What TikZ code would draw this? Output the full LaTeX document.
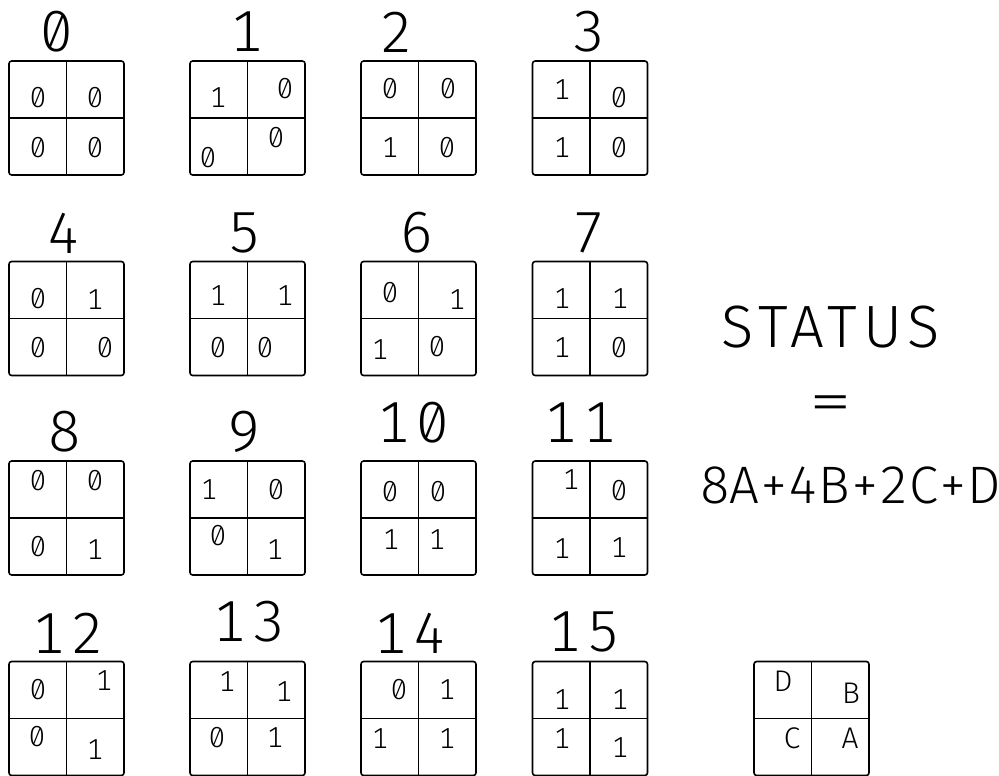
\documentclass[tikz,border=0pt]{standalone}
\usepackage{fontspec}
\usetikzlibrary{positioning}
\newfontfamily\bigfont{Fira Sans Light}[Numbers={Monospaced,SlashedZero},LetterSpace=12]
\newfontfamily\wordfont{Fira Sans Light}[LetterSpace=10]
\newfontfamily\sumfont{Fira Sans Light}[Numbers={Monospaced,SlashedZero}]
\newfontfamily\smallfont{Fira Sans Light}[Numbers={Monospaced,SlashedZero}]

\tikzset{
  statusbox/.style={draw, line width=0.9pt, rounded corners=1.5pt,
    minimum width=2.3cm, minimum height=2.28cm, inner sep=0pt},
  grid line/.style={line width=0.9pt},
  bignum/.style={inner sep=0pt, font=\bigfont\fontsize{33}{33}\selectfont},
  cellnum/.style={inner sep=0pt, font=\smallfont\fontsize{16.5}{16.5}\selectfont},
  keyletter/.style={inner sep=0pt, font=\smallfont\fontsize{17}{17}\selectfont},
}

\begin{document}
\begin{tikzpicture}[x=0.02cm, y=-0.02cm]
  \useasboundingbox (0,0) rectangle (999,776);

  % sixteen boxes, four rows of four
  \foreach \r/\cy in {0/118, 1/318.5, 2/518, 3/718.5} {
    \foreach \c/\cx in {0/66.5, 1/247.5, 2/418.5, 3/590} {
      \pgfmathtruncatemacro{\n}{4*\r+\c}
      \node[statusbox] (b\n) at (\cx,\cy) {};
      \draw[grid line] (b\n.north) -- (b\n.south) (b\n.west) -- (b\n.east);
    }
  }

  % the number above each box
  \foreach \n/\x/\y in {0/57/32, 1/247/32, 2/397/32, 3/589/32,
                        4/64/233, 5/245/233, 6/417/233, 7/589/233,
                        8/65/432, 9/245/432, 10/413/423, 11/580/423,
                        12/68/633, 13/249/622, 14/410/633, 15/584/632}
    \node[bignum] (l\n) at (\x,\y) {\n};

  % bits in the cells
  \foreach \x/\y/\t [count=\k] in {
      38/98/0, 95/98/0, 38/148/0, 95/148/0,
      218/98/1, 285/89/0, 208/158/0, 276/138/0,
      390/89/0, 448/89/0, 390/148/1, 447/148/0,
      562/90/1, 619/98/0, 562/148/1, 619/148/0,
      38/299/0, 95/300/1, 38/348/0, 105/348/0,
      218/296/1, 285/296/1, 218/348/0, 265/348/0,
      390/293/0, 457/300/1, 380/350/1, 437/347/0,
      562/299/1, 620/299/1, 562/348/1, 619/348/0,
      38/481/0, 95/481/0, 38/547/0, 95/550/1,
      209/490/1, 276/490/0, 218/536/0, 275/550/1,
      390/492/0, 438/492/0, 391/540/1, 437/540/1,
      571/480/1, 619/491/0, 562/549/1, 619/548/1,
      38/690/0, 104/681/1, 37/737/0, 95/750/1,
      227/682/1, 284/692/1, 217/738/0, 275/738/1,
      399/690/0, 447/690/1, 380/739/1, 447/739/1,
      562/700/1, 620/700/1, 562/739/1, 620/748/1}
    \node[cellnum] (d\k) at (\x,\y) {\t};

  % key box
  \node[statusbox] (key) at (811.5,718.5) {};
  \draw[grid line] (key.north) -- (key.south) (key.west) -- (key.east);
  \node[keyletter] (kD) at (783,681) {D};
  \node[keyletter] (kB) at (851,693) {B};
  \node[keyletter] (kC) at (792,738) {C};
  \node[keyletter] (kA) at (850,738) {A};

  % formula
  \node[inner sep=0pt, font=\wordfont\fontsize{34}{34}\selectfont] (status) at (830.5,327.5) {STATUS};
  \node[inner sep=0pt, font=\sumfont\fontsize{33}{33}\selectfont] (eq) at (831,409) {\scalebox{1.5}[1]{=}};
  \node[inner sep=0pt, font=\sumfont\fontsize{30}{30}\selectfont] (sum) at (850.5,485) {8A+4B+2C+D};
\end{tikzpicture}
\end{document}
